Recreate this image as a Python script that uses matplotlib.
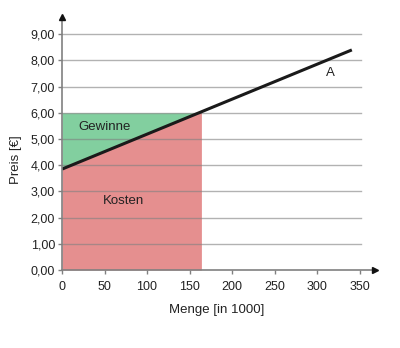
import matplotlib.pyplot as plt
import numpy as np

# Price-quantity data
x_line = [0, 341]
price_line = [3.85, 8.40]
q_box = 164
price_box = 6.0
x_ticks = [0, 50, 100, 150, 200, 250, 300, 350]
y_ticks = [0, 1, 2, 3, 4, 5, 6, 7, 8, 9]
y_tick_labels = [f"{v:.2f}".replace(".", ",") for v in y_ticks]

plt.rcParams['font.family'] = ['Liberation Sans', 'DejaVu Sans']

fig = plt.figure(figsize=(4.0, 3.48), dpi=100)
ax = fig.add_axes([62/400, 78/348, (375-62)/400, 253/348])
x_max = (375-62)/0.85
y_max = 253/26.2
ax.set_xlim(0, x_max)
ax.set_ylim(0, y_max)

# areas
slope = (price_line[1]-price_line[0])/(x_line[1]-x_line[0])
xs = np.array([0, q_box])
ys = price_line[0] + slope*xs
ax.fill_between(xs, ys, price_box, color='#82cf9f', lw=0, zorder=1)
ax.fill_between(xs, 0, ys, color='#e58f8f', lw=0, zorder=1)

# grid lines
for v in y_ticks[1:]:
    ax.plot([0, 352], [v, v], color='#808080', alpha=0.6, lw=1.0, zorder=2)

ax.plot(x_line, price_line, color='#1a1a1a', lw=2.2, zorder=4, solid_capstyle='butt')

ax.text((105-62)/0.85, (270-127)/26.2, 'Gewinne', fontsize=9.5, ha='center', va='center', color='#222222', zorder=5)
ax.text((124-62)/0.85, (270-201)/26.2, 'Kosten', fontsize=9.5, ha='center', va='center', color='#222222', zorder=5)
ax.text((330-62)/0.85, (270-73)/26.2, 'A', fontsize=9.5, ha='center', va='center', color='#222222', zorder=5)

for s in ['top', 'right']:
    ax.spines[s].set_visible(False)
for s in ['left', 'bottom']:
    ax.spines[s].set_color('#808080')
    ax.spines[s].set_linewidth(1.2)
    ax.spines[s].set_zorder(6)

ax.plot(0, 1, marker='^', color='#111111', ms=5, transform=ax.transAxes, clip_on=False, zorder=7)
ax.plot(1, 0, marker='>', color='#111111', ms=5, transform=ax.transAxes, clip_on=False, zorder=7)

ax.set_xticks(x_ticks)
ax.set_xticklabels([str(v) for v in x_ticks])
ax.set_yticks(y_ticks)
ax.set_yticklabels(y_tick_labels)
ax.tick_params(axis='both', labelsize=9, colors='#808080', labelcolor='#222222', length=3, width=1, pad=2)
ax.tick_params(axis='x', pad=5)

ax.set_xlabel('Menge [in 1000]', fontsize=9.5, color='#222222')
ax.set_ylabel('Preis [€]', fontsize=9.5, color='#222222')
ax.xaxis.set_label_coords((217-62)/313, -(304-270)/253)
ax.yaxis.set_label_coords(-(62-22)/313, (270-160)/253)

fig.savefig('out.png', dpi=100)
